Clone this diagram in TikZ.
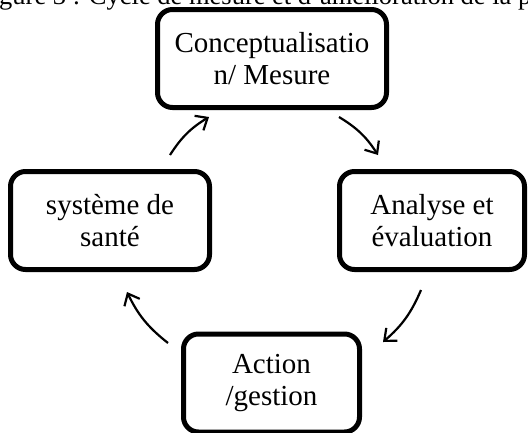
\documentclass[tikz,border=0pt]{standalone}
\usepackage{fontspec}
\setmainfont{Liberation Serif}
\usetikzlibrary{arrows.meta}

\begin{document}
\begin{tikzpicture}[
    x=1pt, y=-1pt,
    box/.style={draw, rectangle, rounded corners=15pt, line width=5pt, align=center, inner sep=0pt, font=\fontsize{29}{32}\selectfont},
    cyclearrow/.style={line width=2.2pt, -{Straight Barb[length=10pt, width=17pt, line width=2.2pt]}}
  ]
    \useasboundingbox (0,0) rectangle (528,432);
    \clip (0,0) rectangle (528,432);
    \node[anchor=base west, inner sep=0pt, font=\fontsize{26.5}{30}\selectfont] (caption) at (-1,4) {gure 3 : Cycle de mesure et d’amélioration de la p};
    \node[box, minimum width=229pt, minimum height=98pt] (concept) at (272,58.5) {Conceptualisatio\\n/ Mesure};
    \node[box, minimum width=185pt, minimum height=98pt] (analyse) at (432,220.5) {Analyse et\\évaluation};
    \node[box, minimum width=176pt, minimum height=98pt] (action) at (271.5,383) {Action\\/gestion};
    \node[box, minimum width=199pt, minimum height=98pt] (sante) at (110,220.5) {système de\\santé};
    \coordinate (a1) at (170,155);
    \coordinate (b1) at (209,117);
    \coordinate (a2) at (339,117);
    \coordinate (b2) at (378,155);
    \coordinate (a3) at (421,290);
    \coordinate (b3) at (383,342);
    \coordinate (a4) at (168,343);
    \coordinate (b4) at (127,292);
    \draw[cyclearrow] (a1) to[bend left=13] (b1);
    \draw[cyclearrow] (a2) to[bend left=13] (b2);
    \draw[cyclearrow] (a3) to[bend left=13] (b3);
    \draw[cyclearrow] (a4) to[bend left=13] (b4);
  \end{tikzpicture}
\end{document}
